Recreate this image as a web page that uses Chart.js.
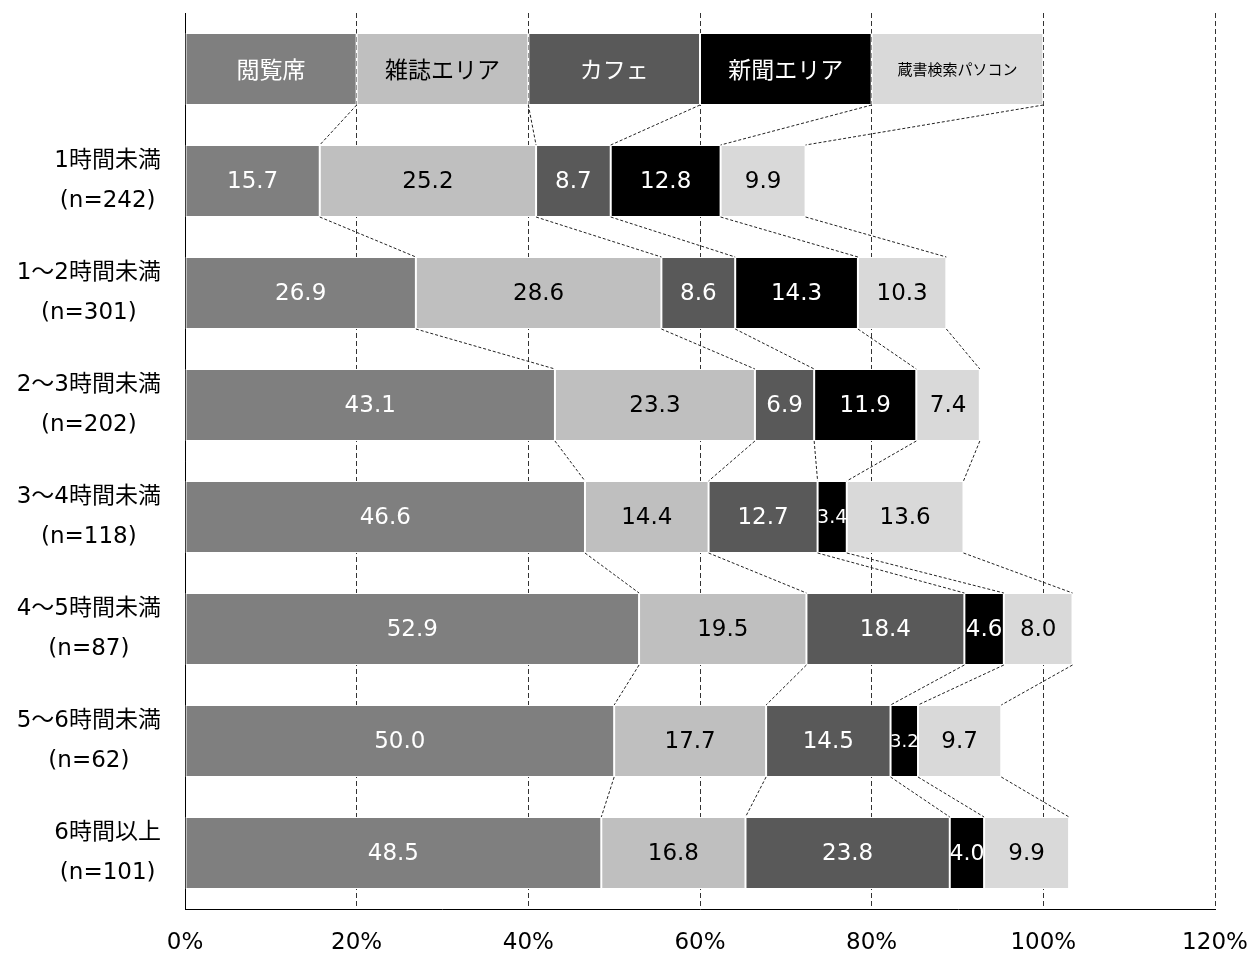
<!DOCTYPE html>
<html>
<head>
<meta charset="utf-8">
<script src="https://cdn.jsdelivr.net/npm/chart.js@4/dist/chart.umd.min.js"></script>
<style>
html,body{margin:0;padding:0;background:#fff;}
#wrap{width:1251px;height:953px;position:relative;}
</style>
</head>
<body>
<div id="wrap"><canvas id="c" width="1251" height="953"></canvas></div>
<script>
// ---- data ----
const seriesNames = ['閲覧席','雑誌エリア','カフェ','新聞エリア','蔵書検索パソコン'];
const groupNames = ['1時間未満','1～2時間未満','2～3時間未満','3～4時間未満','4～5時間未満','5～6時間未満','6時間以上'];
const groupCounts = ['(n=242)','(n=301)','(n=202)','(n=118)','(n=87)','(n=62)','(n=101)'];
const headerShare = 20; // header row: each series shown as an equal 20% block
const reading   = [15.7, 26.9, 43.1, 46.6, 52.9, 50.0, 48.5];
const magazine  = [25.2, 28.6, 23.3, 14.4, 19.5, 17.7, 16.8];
const cafe      = [8.7, 8.6, 6.9, 12.7, 18.4, 14.5, 23.8];
const newspaper = [12.8, 14.3, 11.9, 3.4, 4.6, 3.2, 4.0];
const pcSearch  = [9.9, 10.3, 7.4, 13.6, 8.0, 9.7, 9.9];
const xTickMax = 120;
const xTickStep = 20;

// ---- styles ----
const fillColors = ['#7f7f7f','#bfbfbf','#595959','#000000','#d9d9d9'];
const textColors = ['#ffffff','#000000','#ffffff','#ffffff','#000000'];
const FONT = "'DejaVu Sans', 'Noto Sans CJK JP', sans-serif";
const JFONT = "'Noto Sans CJK JP', 'DejaVu Sans', sans-serif";

const seriesValues = [reading, magazine, cafe, newspaper, pcSearch];
const labels = [''].concat(groupNames);

const datasets = seriesNames.map((name, i) => ({
  label: name,
  data: [headerShare].concat(seriesValues[i]),
  backgroundColor: fillColors[i],
  borderColor: '#ffffff',
  borderWidth: 1,
  borderSkipped: false,
  categoryPercentage: 1,
  barPercentage: 0.643
}));

const overlayPlugin = {
  id: 'overlay',
  afterDatasetsDraw(chart) {
    const ctx = chart.ctx;
    const metas = chart.data.datasets.map((d, i) => chart.getDatasetMeta(i));
    // connector lines
    ctx.save();
    ctx.strokeStyle = '#222';
    ctx.lineWidth = 1;
    ctx.setLineDash([3, 2]);
    for (let r = 0; r < labels.length - 1; r++) {
      metas.forEach(meta => {
        const a = meta.data[r].getProps(['x','y','height'], true);
        const b = meta.data[r + 1].getProps(['x','y','height'], true);
        ctx.beginPath();
        ctx.moveTo(a.x, a.y + a.height / 2);
        ctx.lineTo(b.x, b.y - b.height / 2);
        ctx.stroke();
      });
    }
    ctx.restore();
    // bar labels
    ctx.save();
    ctx.textAlign = 'center';
    ctx.textBaseline = 'middle';
    metas.forEach((meta, di) => {
      meta.data.forEach((el, r) => {
        const p = el.getProps(['x','y','base'], true);
        const w = Math.abs(p.x - p.base);
        const cx = (p.x + p.base) / 2;
        ctx.fillStyle = textColors[di];
        if (r === 0) {
          const txt = seriesNames[di];
          const size = txt.length > 6 ? 15 : 23;
          ctx.font = size + 'px ' + JFONT;
          ctx.fillText(txt, cx, p.y);
        } else {
          const txt = chart.data.datasets[di].data[r].toFixed(1);
          let size = 23;
          ctx.font = size + 'px ' + FONT;
          const tw = ctx.measureText(txt).width;
          if (tw > w + 2) {
            size = Math.max(12, Math.floor(size * (w + 2) / tw));
            ctx.font = size + 'px ' + FONT;
          }
          ctx.fillText(txt, cx, p.y + 1);
        }
      });
    });
    ctx.restore();
    // category labels (two lines, centred to each other, right-aligned block)
    const ys = chart.scales.y;
    ctx.save();
    ctx.fillStyle = '#000';
    ctx.textAlign = 'center';
    ctx.textBaseline = 'middle';
    ctx.font = '23px ' + FONT;
    const rightEdge = 161;
    for (let g = 0; g < groupNames.length; g++) {
      const cy = ys.getPixelForValue(g + 1);
      const w1 = ctx.measureText(groupNames[g]).width;
      const w2 = ctx.measureText(groupCounts[g]).width;
      const bw = Math.max(w1, w2);
      const cx = rightEdge - bw / 2;
      ctx.fillText(groupNames[g], cx, cy - 20);
      ctx.fillText(groupCounts[g], cx, cy + 20);
    }
    ctx.restore();
  }
};

new Chart(document.getElementById('c'), {
  type: 'bar',
  data: { labels: labels, datasets: datasets },
  options: {
    indexAxis: 'y',
    responsive: false,
    animation: false,
    events: [],
    layout: { padding: { top: 13, right: 36, left: 0, bottom: 0 } },
    plugins: { legend: { display: false }, tooltip: { enabled: false } },
    scales: {
      x: {
        stacked: true,
        min: 0,
        max: xTickMax,
        ticks: {
          stepSize: xTickStep,
          callback: v => v + '%',
          color: '#000',
          font: { family: FONT, size: 23 },
          padding: 20,
          maxRotation: 0
        },
        grid: { color: '#333', lineWidth: 1, drawTicks: false },
        border: { display: true, color: '#000', width: 1, dash: [5, 3] },
        afterFit(scale) { scale.height = 44; scale.paddingLeft = 0; scale.paddingRight = 0; }
      },
      y: {
        stacked: true,
        ticks: { display: false },
        grid: { display: false, drawTicks: false },
        border: { display: true, color: '#000', width: 1 },
        afterFit(scale) { scale.width = 185; scale.paddingTop = 0; scale.paddingBottom = 0; }
      }
    }
  },
  plugins: [overlayPlugin]
});
</script>
</body>
</html>
